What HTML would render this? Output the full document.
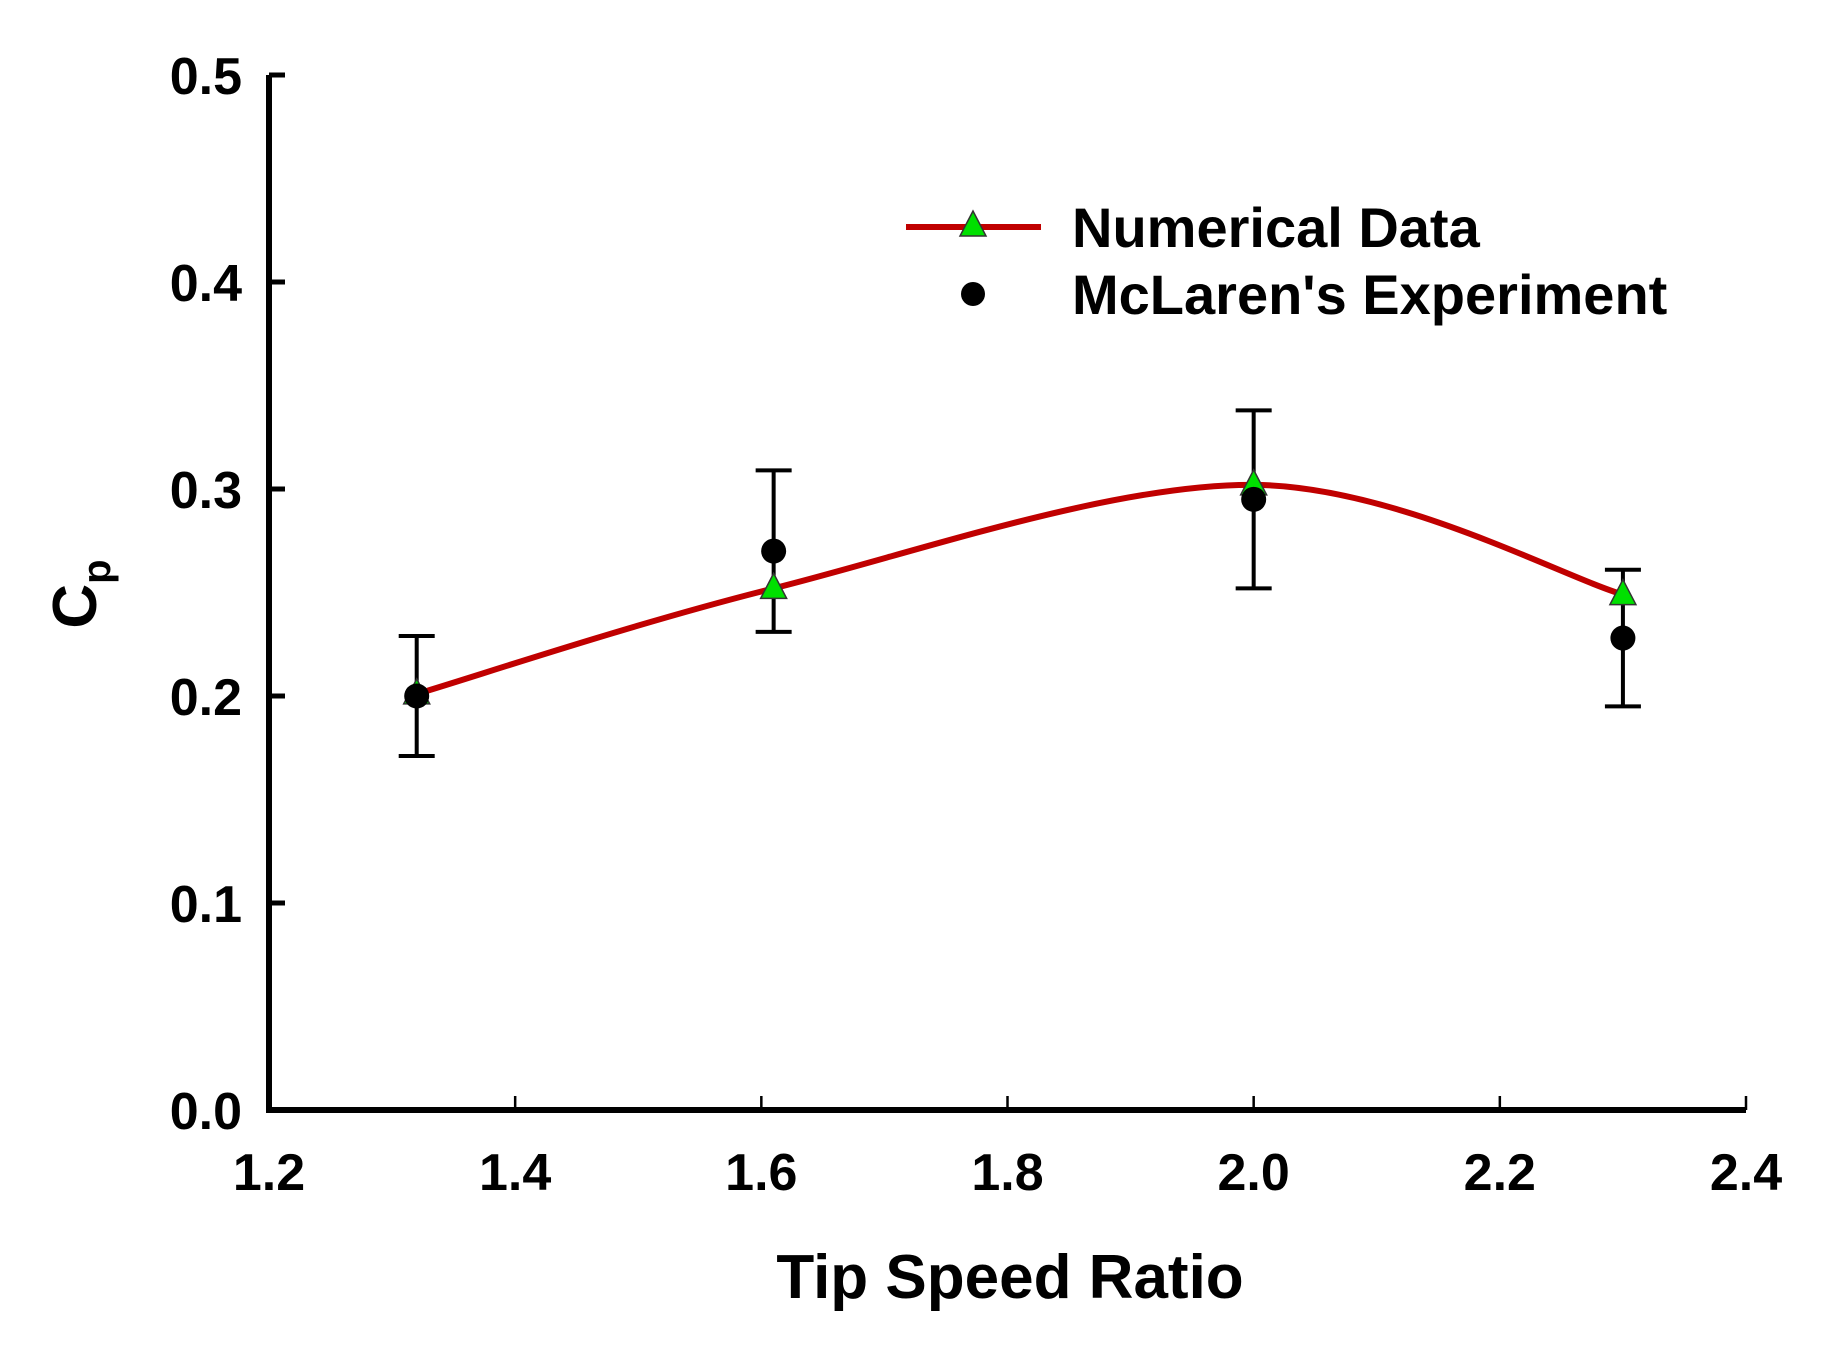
<!DOCTYPE html>
<html><head><meta charset="utf-8"><style>
html,body{margin:0;padding:0;background:#fff}
svg{display:block}
text{font-family:"Liberation Sans",Arial,sans-serif;font-weight:bold;fill:#000}
</style></head><body>
<svg id="chart" width="1836" height="1350" viewBox="0 0 1836 1350" xmlns="http://www.w3.org/2000/svg">
<g id="axes"></g>
<g id="plot"></g>
<g id="legend">
  <line x1="906" y1="227" x2="1041" y2="227" stroke="#c00000" stroke-width="6"/>
  <polygon points="973,211 960,236 986,236" fill="#00e000" stroke="#333" stroke-width="1.5"/>
  <text x="1072" y="247" font-size="56">Numerical Data</text>
  <circle cx="973" cy="294" r="12" fill="#000"/>
  <text x="1072" y="314" font-size="56">McLaren's Experiment</text>
</g>
<text x="1010" y="1298" font-size="62" text-anchor="middle">Tip Speed Ratio</text>
<g transform="translate(96,594) rotate(-90)">
  <text x="0" y="0" font-size="62" text-anchor="middle">C<tspan font-size="40" dy="14">p</tspan></text>
</g>
</svg>
<script>
const xTicks=[1.2,1.4,1.6,1.8,2.0,2.2,2.4];
const xTickLabels=["1.2","1.4","1.6","1.8","2.0","2.2","2.4"];
const yTicks=[0,0.1,0.2,0.3,0.4,0.5];
const yTickLabels=["0.0","0.1","0.2","0.3","0.4","0.5"];
const tsr=[1.32,1.61,2.0,2.3];
const numerical=[0.201,0.252,0.302,0.249];
const experiment=[0.200,0.270,0.295,0.228];
const errLow=[0.171,0.231,0.252,0.195];
const errHigh=[0.229,0.309,0.338,0.261];

const NS="http://www.w3.org/2000/svg";
const X0=269,X1=1746,Y0=1110,Y1=75;
function sx(v){return X0+(v-1.2)/(2.4-1.2)*(X1-X0);}
function sy(v){return Y0-(v-0)/(0.5-0)*(Y0-Y1);}
function mk(tag,attrs,parent){const e=document.createElementNS(NS,tag);for(const k in attrs)e.setAttribute(k,attrs[k]);parent.appendChild(e);return e;}
const axes=document.getElementById('axes'),plot=document.getElementById('plot');

let e=mk('path',{d:`M${X0},${Y1} V${Y0} H${X1}`,fill:'none',stroke:'#000','stroke-width':6},axes);


xTicks.forEach((t,i)=>{
  const x=sx(t);
  let l=mk('line',{x1:x,y1:Y0,x2:x,y2:Y0-14,stroke:'#000','stroke-width':2.5},axes);
  
  
  let tx=mk('text',{x:x,y:1190,'font-size':52,'text-anchor':'middle'},axes);
  tx.textContent=xTickLabels[i];
  
  
});
yTicks.forEach((t,i)=>{
  const y=sy(t);
  let l=mk('line',{x1:X0,y1:y,x2:X0+16,y2:y,stroke:'#000','stroke-width':5},axes);
  
  
  let tx=mk('text',{x:242,y:y+19,'font-size':52,'text-anchor':'end'},axes);
  tx.textContent=yTickLabels[i];
  
  
});

const pts=tsr.map((t,i)=>[sx(t),sy(numerical[i])]);
let d=`M${pts[0][0]},${pts[0][1]}`;
for(let i=0;i<pts.length-1;i++){
  const p0=pts[Math.max(0,i-1)],p1=pts[i],p2=pts[i+1],p3=pts[Math.min(pts.length-1,i+2)];
  const c1=[p1[0]+(p2[0]-p0[0])/6,p1[1]+(p2[1]-p0[1])/6];
  const c2=[p2[0]-(p3[0]-p1[0])/6,p2[1]-(p3[1]-p1[1])/6];
  d+=` C${c1[0]},${c1[1]} ${c2[0]},${c2[1]} ${p2[0]},${p2[1]}`;
}
e=mk('path',{d:d,fill:'none',stroke:'#c00000','stroke-width':6},plot);



tsr.forEach((t,i)=>{
  const x=sx(t);
  const g=mk('g',{},plot);
  
  
  mk('line',{x1:x,y1:sy(errLow[i]),x2:x,y2:sy(errHigh[i]),stroke:'#000','stroke-width':4},g);
  mk('line',{x1:x-18,y1:sy(errLow[i]),x2:x+18,y2:sy(errLow[i]),stroke:'#000','stroke-width':4},g);
  mk('line',{x1:x-18,y1:sy(errHigh[i]),x2:x+18,y2:sy(errHigh[i]),stroke:'#000','stroke-width':4},g);
});
tsr.forEach((t,i)=>{
  const x=sx(t),y=sy(numerical[i]);
  let p=mk('polygon',{points:`${x},${y-15} ${x-13},${y+10} ${x+13},${y+10}`,fill:'#00e000',stroke:'#333','stroke-width':1.5},plot);
  
  
});
tsr.forEach((t,i)=>{
  let c=mk('circle',{cx:sx(t),cy:sy(experiment[i]),r:12.5,fill:'#000'},plot);
  
  
});
</script>
</body></html>
